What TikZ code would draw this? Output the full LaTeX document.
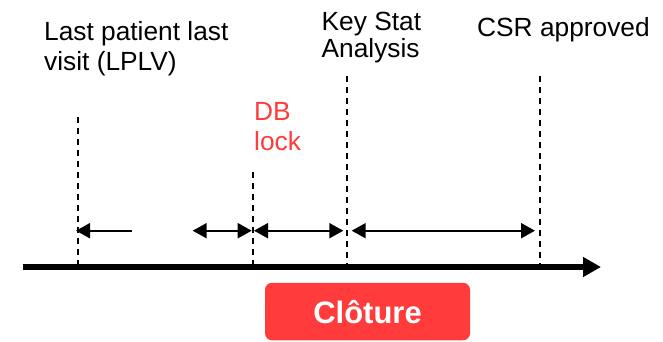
\documentclass[tikz,border=0pt]{standalone}
\usepackage{fontspec}
\setmainfont{Liberation Sans}
\usetikzlibrary{arrows.meta}
\definecolor{clred}{HTML}{FF3B3B}
\begin{document}
\begin{tikzpicture}[x=1pt,y=-1pt,
  lbl/.style={anchor=base west,inner sep=0pt,font=\fontsize{26.3}{30}\selectfont},
  vdash/.style={line width=2pt,dash pattern=on 6pt off 5pt},
  span/.style={line width=2pt,{Triangle[length=14pt,width=15pt]}-{Triangle[length=14pt,width=15pt]}},
  lspan/.style={line width=2pt,{Triangle[length=14pt,width=15pt]}-},
  axis/.style={line width=6pt,-{Triangle[length=18pt,width=19pt]}}]
\useasboundingbox (0,0) rectangle (663,341);
% labels
\node[lbl] (lplv1) at (44,40) {Last patient last};
\node[lbl] (lplv2) at (44,70) {visit (LPLV)};
\node[lbl] (ks1) at (321.5,30) {Key Stat};
\node[lbl] (ks2) at (321.5,57.5) {Analysis};
\node[lbl] (csr) at (477,36.5) {CSR approved};
\node[lbl,text=clred] (db1) at (254,120) {DB};
\node[lbl,text=clred] (db2) at (254,150) {lock};
% dashed markers
\coordinate (t1) at (77.7,117);  \coordinate (b1) at (77.7,265);
\coordinate (t2) at (252.7,172); \coordinate (b2) at (252.7,265);
\coordinate (t3) at (346.7,76);  \coordinate (b3) at (346.7,265);
\coordinate (t4) at (540,76);    \coordinate (b4) at (540,265);
\draw[vdash] (t1) -- (b1);
\draw[vdash] (t2) -- (b2);
\draw[vdash] (t3) -- (b3);
\draw[vdash] (t4) -- (b4);
% spans
\coordinate (s1a) at (76,230.7);    \coordinate (s1b) at (131.7,230.7);
\coordinate (s2a) at (192.7,230.7); \coordinate (s2b) at (251.7,230.7);
\coordinate (s3a) at (254,230.7);   \coordinate (s3b) at (343.3,230.7);
\coordinate (s4a) at (351.7,230.7); \coordinate (s4b) at (535,230.7);
\draw[lspan] (s1a) -- (s1b);
\draw[span] (s2a) -- (s2b);
\draw[span] (s3a) -- (s3b);
\draw[span] (s4a) -- (s4b);
% axis
\coordinate (ax0) at (22.7,267);
\coordinate (ax1) at (601,267);
\draw[axis] (ax0) -- (ax1);
% box
\node[fill=clred,rounded corners=7pt,minimum width=205pt,minimum height=57.5pt,
  inner sep=0pt,text=white,font=\bfseries\fontsize{31}{35}\selectfont,text depth=0pt]
  (clo) at (367.5,311.5) {Clôture};
\end{tikzpicture}
\end{document}
